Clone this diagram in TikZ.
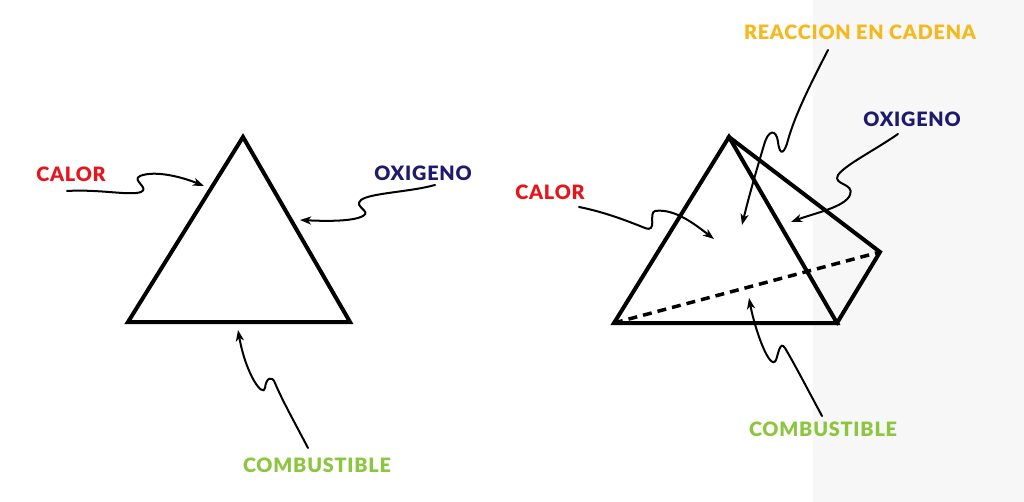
\documentclass[tikz,border=0pt]{standalone}
\usepackage{fontspec}
\setmainfont{Lato}
\newfontfamily\lblfont{Lato Black}[LetterSpace=4]
\usetikzlibrary{arrows.meta}
\definecolor{calorred}{HTML}{E8141C}
\definecolor{oxinavy}{HTML}{1E1A6E}
\definecolor{combgreen}{HTML}{8CC63F}
\definecolor{reacyellow}{HTML}{F6B81A}
\definecolor{rightbg}{HTML}{F7F7F7}
\tikzset{
  edge/.style={line width=4pt, line join=miter, line cap=rect},
  hidden/.style={line width=3.5pt, dash pattern=on 9pt off 6pt},
  pointer/.style={line width=2pt, line cap=round, -{Stealth[length=11pt,width=8pt,inset=3pt]}},
  lbl/.style={font=\fontsize{19.8}{22}\lblfont, inner sep=0pt, anchor=center},
}
\begin{document}
\begin{tikzpicture}[x=1pt,y=-1pt]
\useasboundingbox (0,0) rectangle (1024,502);
\fill[white] (0,0) rectangle (813,502);
\fill[rightbg] (813,0) rectangle (1024,502);

% ---- left triangle
\coordinate (LA) at (243,137);
\coordinate (LB) at (128,322);
\coordinate (LC) at (350,322);
\draw[edge] (LA) -- (LB) -- (LC) -- cycle;

\node[lbl, text=calorred] (lcalor) at (71,174) {CALOR};
\node[lbl, text=oxinavy] (loxi) at (423,173) {OXIGENO};
\node[lbl, text=combgreen] (lcomb) at (317,465) {COMBUSTIBLE};

\coordinate (lcalorS) at (67,191);
\coordinate (lcalorE) at (204,186);
\draw[pointer] (lcalorS) .. controls (100,189) and (130,196) .. (141,192)
  .. controls (150,188) and (131,180) .. (140,176)
  .. controls (155,170) and (182,177) .. (lcalorE);

\coordinate (loxiS) at (435,185);
\coordinate (loxiE) at (300,220);
\draw[pointer] (loxiS) .. controls (410,192) and (370,193) .. (361,200)
  .. controls (353,207) and (372,211) .. (363,216)
  .. controls (352,222) and (322,221) .. (loxiE);

\coordinate (lcombS) at (308,448);
\coordinate (lcombE) at (238,330);
\draw[pointer] (lcombS) .. controls (296,425) and (282,400) .. (275,383)
  .. controls (272,375) and (266,378) .. (265,388)
  .. controls (263,398) and (246,375) .. (lcombE);

% ---- right tetrahedron
\coordinate (RA) at (729,137);
\coordinate (RB) at (614,323);
\coordinate (RC) at (837,323);
\coordinate (RD) at (880,252);
\draw[hidden] (RB) -- (RD);
\draw[edge] (RA) -- (RB) -- (RC) -- cycle;
\draw[edge] (RA) -- (RD) -- (RC);

\node[lbl, text=reacyellow] (rreac) at (860,32) {REACCION EN CADENA};
\node[lbl, text=oxinavy] (roxi) at (912,119) {OXIGENO};
\node[lbl, text=calorred] (rcalor) at (550,192) {CALOR};
\node[lbl, text=combgreen] (rcomb) at (823,429) {COMBUSTIBLE};

\coordinate (rreacS) at (828,50);
\coordinate (rreacE) at (742,225);
\draw[pointer] (rreacS) .. controls (810,85) and (795,115) .. (788,140)
  .. controls (785,152) and (780,158) .. (778,142)
  .. controls (776,128) and (768,130) .. (764,145)
  .. controls (755,175) and (748,200) .. (rreacE);

\coordinate (roxiS) at (898,134);
\coordinate (roxiE) at (791,222);
\draw[pointer] (roxiS) .. controls (875,150) and (845,165) .. (838,175)
  .. controls (832,185) and (855,183) .. (850,195)
  .. controls (845,207) and (815,213) .. (roxiE);

\coordinate (rcalorS) at (579,207);
\coordinate (rcalorE) at (714,239);
\draw[pointer] (rcalorS) .. controls (605,212) and (630,222) .. (645,228)
  .. controls (658,233) and (648,213) .. (655,211)
  .. controls (675,208) and (697,226) .. (rcalorE);

\coordinate (rcombS) at (822,416);
\coordinate (rcombE) at (749,298);
\draw[pointer] (rcombS) .. controls (808,390) and (795,365) .. (785,348)
  .. controls (780,340) and (778,355) .. (776,360)
  .. controls (770,372) and (755,330) .. (rcombE);
\end{tikzpicture}
\end{document}
